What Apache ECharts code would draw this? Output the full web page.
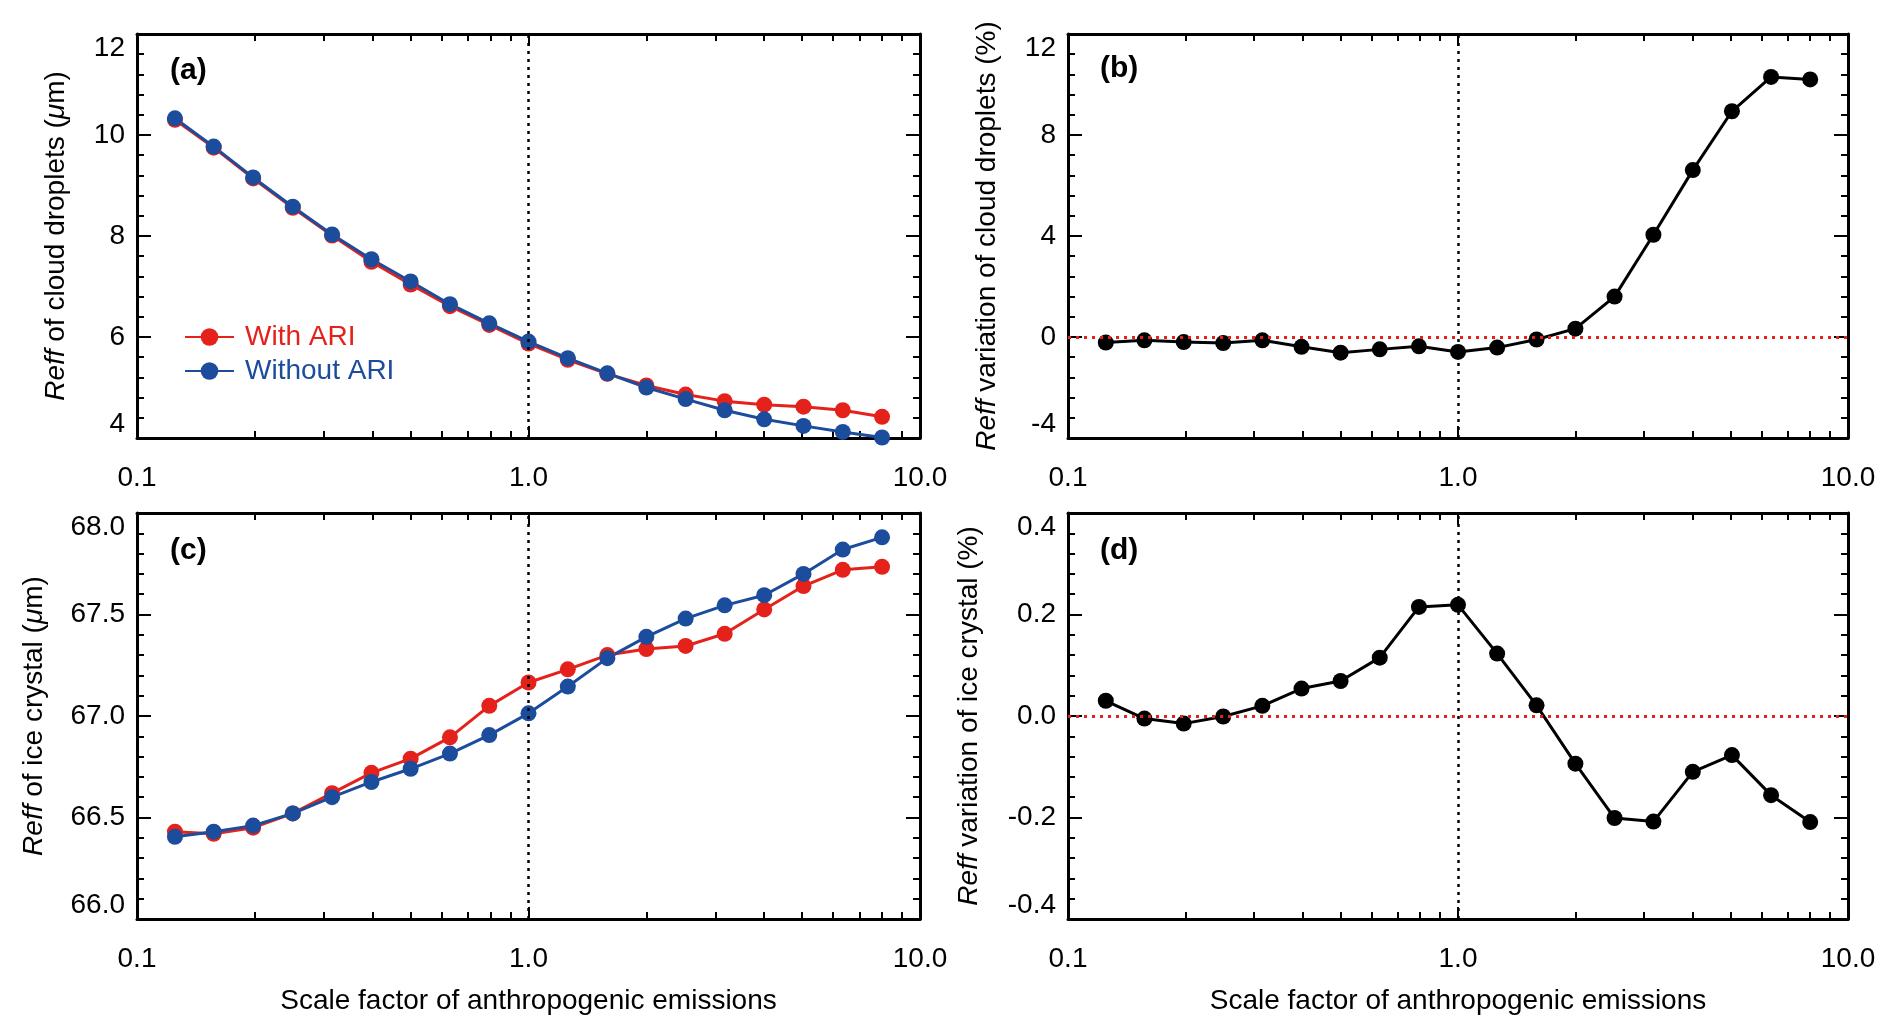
<!DOCTYPE html>
<html>
<head>
<meta charset="utf-8">
<title>Reff vs scale factor of anthropogenic emissions</title>
<script src="https://cdn.jsdelivr.net/npm/echarts@6/dist/echarts.min.js"></script>
<style>
  html, body { margin: 0; padding: 0; background: #fff; }
  #chart { width: 1892px; height: 1035px; }
</style>
</head>
<body>
<div id="chart"></div>
<script>
// scale factors of anthropogenic emissions (x of every panel)
const scaleFactor = [0.125, 0.157, 0.198, 0.25, 0.315, 0.397, 0.5, 0.63, 0.794, 1.0,
  1.26, 1.59, 2.0, 2.52, 3.17, 4.0, 5.04, 6.35, 8.0]

// (a) Reff of cloud droplets (um)
const cloudWithARI = [10.30, 9.75, 9.14, 8.56, 8.01, 7.49, 7.04, 6.61, 6.24, 5.87,
  5.55, 5.27, 5.04, 4.86, 4.73, 4.66, 4.62, 4.55, 4.42]
const cloudWithoutARI = [10.33, 9.77, 9.16, 8.58, 8.03, 7.54, 7.10, 6.65, 6.27, 5.91,
  5.58, 5.28, 5.00, 4.77, 4.55, 4.37, 4.24, 4.12, 4.01]

// (b) Reff variation of cloud droplets (%)
const cloudVariation = [-0.22, -0.13, -0.20, -0.24, -0.13, -0.39, -0.62, -0.49, -0.37, -0.59,
  -0.42, -0.10, 0.33, 1.60, 4.05, 6.61, 8.94, 10.30, 10.20]

// (c) Reff of ice crystal (um)
const iceWithARI = [66.43, 66.42, 66.45, 66.52, 66.62, 66.72, 66.79, 66.895, 67.05, 67.165,
  67.23, 67.30, 67.33, 67.345, 67.405, 67.525, 67.64, 67.72, 67.735]
const iceWithoutARI = [66.405, 66.43, 66.46, 66.52, 66.60, 66.675, 66.74, 66.815, 66.906, 67.013,
  67.145, 67.285, 67.39, 67.48, 67.545, 67.595, 67.70, 67.82, 67.88]

// (d) Reff variation of ice crystal (%)
const iceVariation = [0.030, -0.005, -0.015, -0.001, 0.020, 0.054, 0.069, 0.115, 0.215, 0.219,
  0.123, 0.021, -0.094, -0.201, -0.208, -0.110, -0.077, -0.156, -0.209]

// x tick positions (log axis)
const xMajorTicks = [0.1, 1, 10]
const xMinorTicks = [0.2, 0.3, 0.4, 0.5, 0.6, 0.7, 0.8, 0.9, 2, 3, 4, 5, 6, 7, 8, 9]

const panelLabels = ['(a)', '(b)', '(c)', '(d)']
const seriesNames = ['With ARI', 'Without ARI']

const FONT = '"Liberation Sans", Arial, Helvetica, sans-serif'
const RED = '#e4221b'
const BLUE = '#1c4c9c'
const BLACK = '#000'

const grids = [
  { left: 137, top: 34, width: 783, height: 404 },
  { left: 1068, top: 34, width: 780, height: 404 },
  { left: 137, top: 513, width: 783, height: 406 },
  { left: 1068, top: 513, width: 780, height: 406 }
]
const labelPos = [
  { left: 170, top: 56 }, { left: 1100, top: 54 },
  { left: 170, top: 536 }, { left: 1100, top: 536 }
]

function pairs (ys) {
  return scaleFactor.map((x, i) => [x, ys[i]])
}

// 4 x axes per grid: labelled bottom, top mirror, and two for the minor ticks
function xAxes (g, withName) {
  const base = { type: 'log', logBase: 10, min: 0.1, max: 10, gridIndex: g, splitLine: { show: false } }
  const tickStyle = { width: 2, color: BLACK }
  const line = { show: true, onZero: false, lineStyle: { color: BLACK, width: 3 } }
  return [
    Object.assign({}, base, {
      position: 'bottom',
      axisLine: line,
      axisTick: { show: true, inside: true, length: 12, lineStyle: tickStyle, customValues: xMajorTicks },
      axisLabel: {
        customValues: xMajorTicks, margin: 26, fontSize: 28, color: BLACK, fontFamily: FONT,
        formatter: v => Number(v).toFixed(1)
      },
      name: withName ? 'Scale factor of anthropogenic emissions' : '',
      nameLocation: 'middle',
      nameGap: 68,
      nameTextStyle: { fontSize: 28, color: BLACK, fontFamily: FONT }
    }),
    Object.assign({}, base, {
      position: 'top',
      axisLine: line,
      axisTick: { show: true, inside: true, length: 12, lineStyle: tickStyle, customValues: xMajorTicks },
      axisLabel: { show: false }
    }),
    Object.assign({}, base, {
      position: 'bottom',
      axisLine: { show: false, onZero: false },
      axisTick: { show: true, inside: true, length: 7, lineStyle: tickStyle, customValues: xMinorTicks },
      axisLabel: { show: false }
    }),
    Object.assign({}, base, {
      position: 'top',
      axisLine: { show: false, onZero: false },
      axisTick: { show: true, inside: true, length: 7, lineStyle: tickStyle, customValues: xMinorTicks },
      axisLabel: { show: false }
    })
  ]
}

// left (labelled) + right (mirror) y axes
function yAxes (g, min, max, interval, name, gap, digits) {
  const tick = { show: true, inside: true, length: 14, lineStyle: { width: 2, color: BLACK } }
  const minor = { show: true, splitNumber: 5, length: 7, lineStyle: { width: 2, color: BLACK } }
  const line = { show: true, onZero: false, lineStyle: { color: BLACK, width: 3 } }
  return [
    {
      type: 'value', gridIndex: g, position: 'left', min: min, max: max, interval: interval,
      axisLine: line, axisTick: tick, minorTick: minor, splitLine: { show: false },
      axisLabel: {
        fontSize: 28, color: BLACK, fontFamily: FONT, margin: 12,
        verticalAlignMinLabel: 'bottom', verticalAlignMaxLabel: 'top',
        formatter: v => (Math.abs(v) < 1e-9 ? 0 : v).toFixed(digits)
      },
      name: name,
      nameLocation: 'middle',
      nameGap: gap,
      nameTextStyle: {
        fontSize: 28, color: BLACK, fontFamily: FONT,
        rich: { i: { fontSize: 28, color: BLACK, fontFamily: FONT, fontStyle: 'italic' } }
      }
    },
    {
      type: 'value', gridIndex: g, position: 'right', min: min, max: max, interval: interval,
      axisLine: line, axisTick: tick, minorTick: minor, splitLine: { show: false },
      axisLabel: { show: false }
    }
  ]
}

function lineSeries (name, color, g, ys, marks) {
  const s = {
    name: name,
    type: 'line',
    xAxisIndex: g * 4,
    yAxisIndex: g * 2,
    data: pairs(ys),
    symbol: 'circle',
    symbolSize: 16,
    itemStyle: { color: color },
    lineStyle: { color: color, width: 3 }
  }
  if (marks) {
    s.markLine = {
      silent: true,
      symbol: 'none',
      label: { show: false },
      data: marks
    }
  }
  return s
}

const vLine = { xAxis: 1, lineStyle: { color: BLACK, type: [3, 5], width: 2.5 } }
const zeroLine = { yAxis: 0, lineStyle: { color: RED, type: [3, 5], width: 3 } }

const chart = echarts.init(document.getElementById('chart'))
chart.setOption({
  backgroundColor: '#fff',
  animation: false,
  title: panelLabels.map((t, i) => ({
    text: t,
    left: labelPos[i].left,
    top: labelPos[i].top,
    padding: 0,
    textStyle: { fontSize: 30, fontWeight: 'bold', color: BLACK, fontFamily: FONT }
  })),
  legend: {
    orient: 'vertical',
    left: 179,
    top: 318,
    itemWidth: 49,
    itemHeight: 22,
    itemGap: 6,
    textStyle: { fontSize: 28, fontFamily: FONT, padding: [0, 0, 0, 6] },
    data: [
      { name: seriesNames[0], textStyle: { color: RED } },
      { name: seriesNames[1], textStyle: { color: BLUE } }
    ]
  },
  grid: grids,
  xAxis: [].concat(xAxes(0, false), xAxes(1, false), xAxes(2, true), xAxes(3, true)),
  yAxis: [].concat(
    yAxes(0, 4, 12, 2, '{i|Reff} of cloud droplets ({i|μ}m)', 67, 0),
    yAxes(1, -4, 12, 4, '{i|Reff} variation of cloud droplets (%)', 67, 0),
    yAxes(2, 66, 68, 0.5, '{i|Reff} of ice crystal ({i|μ}m)', 89, 1),
    yAxes(3, -0.4, 0.4, 0.2, '{i|Reff} variation of ice crystal (%)', 85, 1)
  ),
  series: [
    lineSeries(seriesNames[0], RED, 0, cloudWithARI, [vLine]),
    lineSeries(seriesNames[1], BLUE, 0, cloudWithoutARI),
    lineSeries('cloud variation', BLACK, 1, cloudVariation, [vLine, zeroLine]),
    lineSeries(seriesNames[0], RED, 2, iceWithARI, [vLine]),
    lineSeries(seriesNames[1], BLUE, 2, iceWithoutARI),
    lineSeries('ice variation', BLACK, 3, iceVariation, [vLine, zeroLine])
  ]
})
</script>
</body>
</html>
